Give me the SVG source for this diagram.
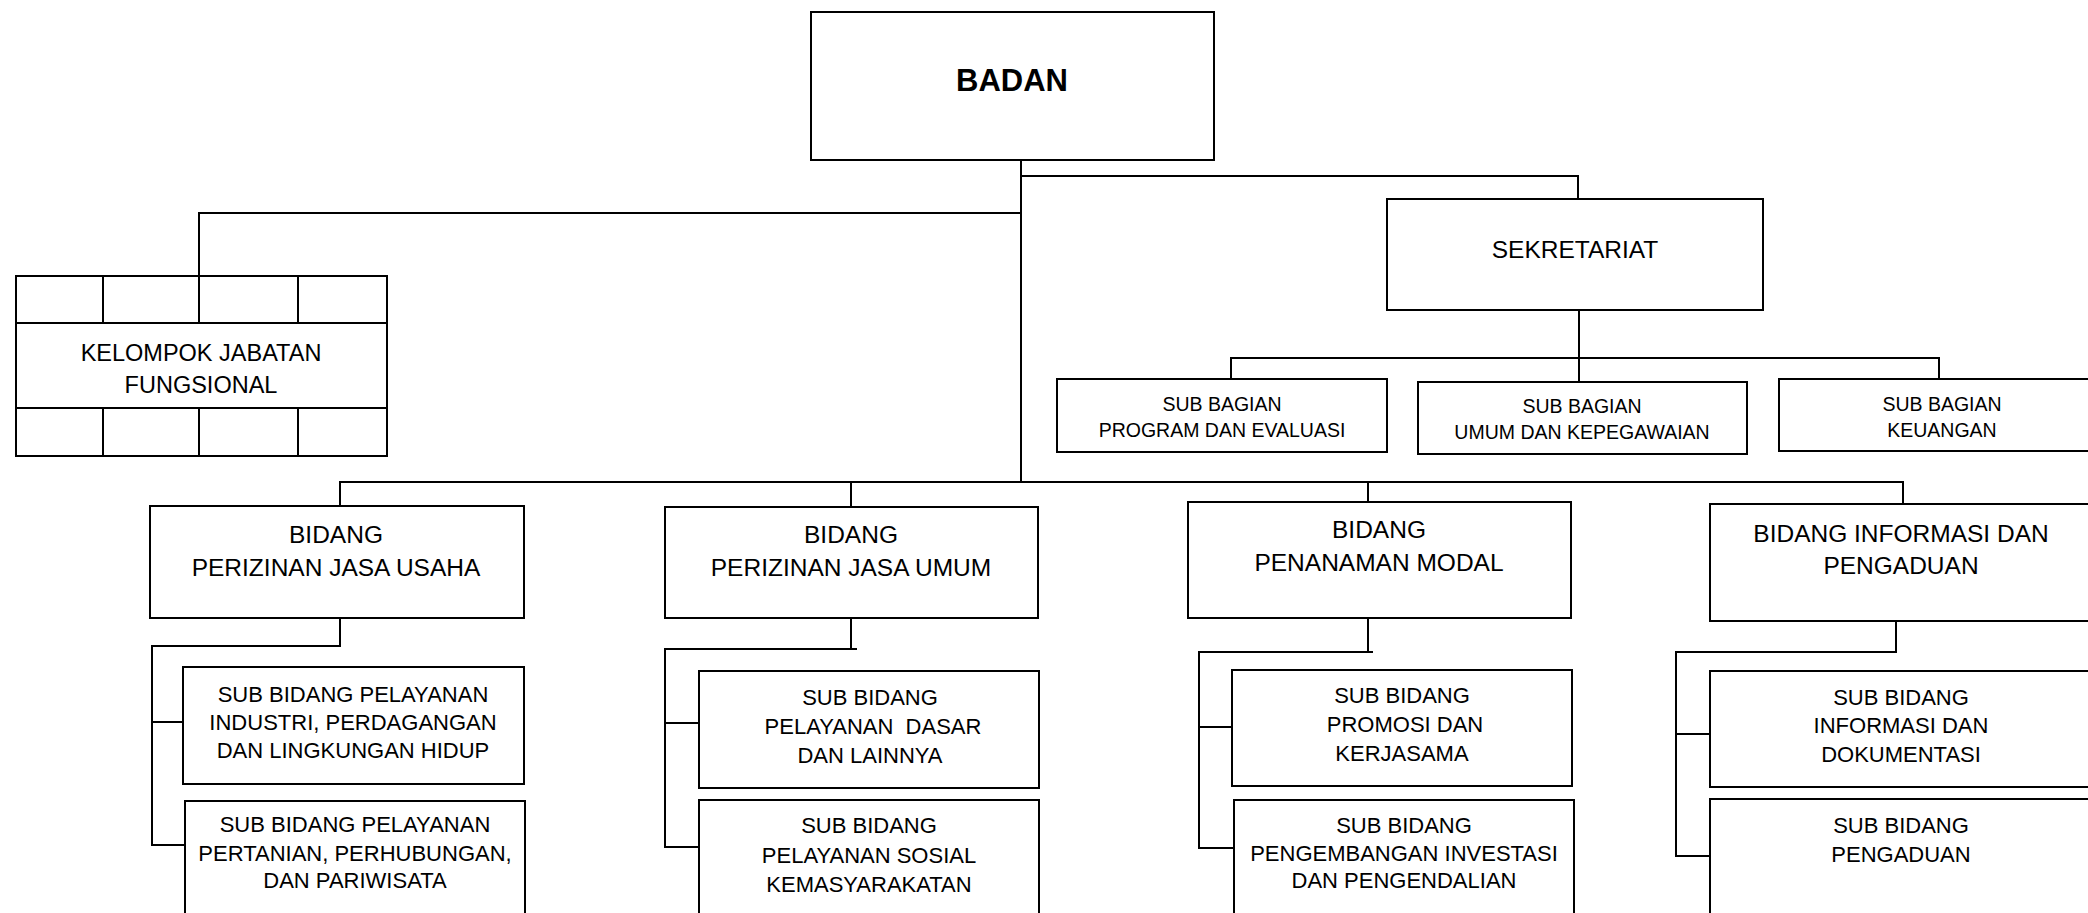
<svg xmlns="http://www.w3.org/2000/svg" width="2088" height="913" viewBox="0 0 2088 913">
<style>
.box{fill:#fff;stroke:#000;stroke-width:2}
.ln{fill:none;stroke:#000;stroke-width:2}
text{font-family:"Liberation Sans",Arial,sans-serif;fill:#000;text-anchor:middle}
.t1{font-size:31px;font-weight:bold}
.t2{font-size:24.5px}
.t3{font-size:22px}
.t4{font-size:19.5px}
.t5{font-size:23.5px}
</style>
<rect width="2088" height="913" fill="#fff"/>
<g id="connectors">
<path class="ln" d="M1021,160 V482"/>
<path class="ln" d="M1021,176 H1578 V199"/>
<path class="ln" d="M1021,213 H199 V276"/>
<path class="ln" d="M1579,310 V382"/>
<path class="ln" d="M1231,379 V358 H1939 V379"/>
<path class="ln" d="M340,506 V482 H1903 V504"/>
<path class="ln" d="M851,482 V507"/>
<path class="ln" d="M1368,482 V502"/>
<path class="ln" d="M340,618 V646 H152 V845 H185"/>
<path class="ln" d="M152,722 H183"/>
<path class="ln" d="M851,618 V649"/>
<path class="ln" d="M857,649 H665 V847 H699"/>
<path class="ln" d="M665,723 H699"/>
<path class="ln" d="M1368,618 V652"/>
<path class="ln" d="M1373,652 H1199 V848 H1234"/>
<path class="ln" d="M1199,727 H1232"/>
<path class="ln" d="M1896,621 V652 H1676 V856 H1710"/>
<path class="ln" d="M1676,734 H1710"/>
</g>
<g id="badan">
<rect class="box" x="811" y="12" width="403" height="148"/>
<text class="t1" x="1012" y="91">BADAN</text>
</g>
<g id="kelompok-jabatan-fungsional">
<rect class="box" x="16" y="276" width="371" height="180"/>
<path class="ln" d="M16,323 H387 M16,408 H387 M103,276 V323 M199,276 V323 M298,276 V323 M103,408 V456 M199,408 V456 M298,408 V456"/>
<text class="t5" x="201" y="361">KELOMPOK JABATAN</text>
<text class="t5" x="201" y="393">FUNGSIONAL</text>
</g>
<g id="sekretariat">
<rect class="box" x="1387" y="199" width="376" height="111"/>
<text class="t2" x="1575" y="258">SEKRETARIAT</text>
</g>
<g id="sub-bagian-program">
<rect class="box" x="1057" y="379" width="330" height="73"/>
<text class="t4" x="1222" y="411">SUB BAGIAN</text>
<text class="t4" x="1222" y="437">PROGRAM DAN EVALUASI</text>
</g>
<g id="sub-bagian-umum">
<rect class="box" x="1418" y="382" width="329" height="72"/>
<text class="t4" x="1582" y="413">SUB BAGIAN</text>
<text class="t4" x="1582" y="439">UMUM DAN KEPEGAWAIAN</text>
</g>
<g id="sub-bagian-keuangan">
<rect class="box" x="1779" y="379" width="330" height="72"/>
<text class="t4" x="1942" y="411">SUB BAGIAN</text>
<text class="t4" x="1942" y="437">KEUANGAN</text>
</g>
<g id="bidang-jasa-usaha">
<rect class="box" x="150" y="506" width="374" height="112"/>
<text class="t2" x="336" y="543">BIDANG</text>
<text class="t2" x="336" y="576">PERIZINAN JASA USAHA</text>
</g>
<g id="bidang-jasa-umum">
<rect class="box" x="665" y="507" width="373" height="111"/>
<text class="t2" x="851" y="543">BIDANG</text>
<text class="t2" x="851" y="576">PERIZINAN JASA UMUM</text>
</g>
<g id="bidang-penanaman-modal">
<rect class="box" x="1188" y="502" width="383" height="116"/>
<text class="t2" x="1379" y="538">BIDANG</text>
<text class="t2" x="1379" y="571">PENANAMAN MODAL</text>
</g>
<g id="bidang-informasi">
<rect class="box" x="1710" y="504" width="400" height="117"/>
<text class="t2" x="1901" y="542">BIDANG INFORMASI DAN</text>
<text class="t2" x="1901" y="574">PENGADUAN</text>
</g>
<g id="sub-industri">
<rect class="box" x="183" y="667" width="341" height="117"/>
<text class="t3" x="353" y="702">SUB BIDANG PELAYANAN</text>
<text class="t3" x="353" y="730">INDUSTRI, PERDAGANGAN</text>
<text class="t3" x="353" y="758">DAN LINGKUNGAN HIDUP</text>
</g>
<g id="sub-pertanian">
<rect class="box" x="185" y="801" width="340" height="130"/>
<text class="t3" x="355" y="832">SUB BIDANG PELAYANAN</text>
<text class="t3" x="355" y="861">PERTANIAN, PERHUBUNGAN,</text>
<text class="t3" x="355" y="888">DAN PARIWISATA</text>
</g>
<g id="sub-dasar">
<rect class="box" x="699" y="671" width="340" height="117"/>
<text class="t3" x="870" y="705">SUB BIDANG</text>
<text class="t3" x="873" y="734" xml:space="preserve">PELAYANAN  DASAR</text>
<text class="t3" x="870" y="763">DAN LAINNYA</text>
</g>
<g id="sub-sosial">
<rect class="box" x="699" y="800" width="340" height="130"/>
<text class="t3" x="869" y="833">SUB BIDANG</text>
<text class="t3" x="869" y="863">PELAYANAN SOSIAL</text>
<text class="t3" x="869" y="892">KEMASYARAKATAN</text>
</g>
<g id="sub-promosi">
<rect class="box" x="1232" y="670" width="340" height="116"/>
<text class="t3" x="1402" y="703">SUB BIDANG</text>
<text class="t3" x="1405" y="732">PROMOSI DAN</text>
<text class="t3" x="1402" y="761">KERJASAMA</text>
</g>
<g id="sub-investasi">
<rect class="box" x="1234" y="800" width="340" height="130"/>
<text class="t3" x="1404" y="833">SUB BIDANG</text>
<text class="t3" x="1404" y="861">PENGEMBANGAN INVESTASI</text>
<text class="t3" x="1404" y="888">DAN PENGENDALIAN</text>
</g>
<g id="sub-informasi">
<rect class="box" x="1710" y="671" width="400" height="116"/>
<text class="t3" x="1901" y="705">SUB BIDANG</text>
<text class="t3" x="1901" y="733">INFORMASI DAN</text>
<text class="t3" x="1901" y="762">DOKUMENTASI</text>
</g>
<g id="sub-pengaduan">
<rect class="box" x="1710" y="799" width="400" height="130"/>
<text class="t3" x="1901" y="833">SUB BIDANG</text>
<text class="t3" x="1901" y="862">PENGADUAN</text>
</g>
</svg>
